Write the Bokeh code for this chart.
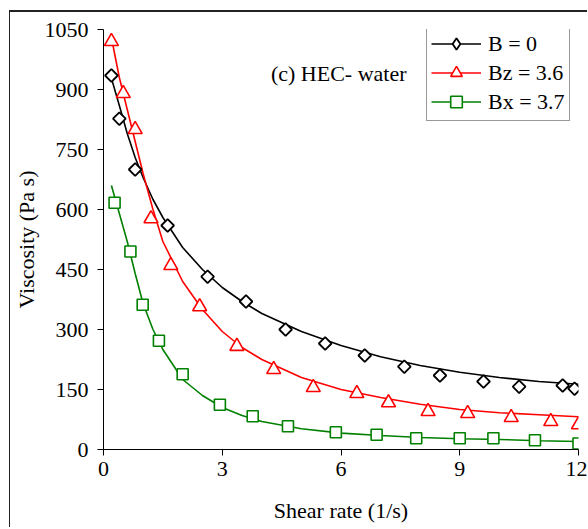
from bokeh.plotting import figure
from bokeh.models import (Range1d, FixedTicker, Legend, LegendItem, Label)
from bokeh.embed import file_html
from bokeh.resources import INLINE

# Measured data points
x_b0 = [0.2, 0.4, 0.8, 1.62, 2.63, 3.6, 4.6, 5.6, 6.6, 7.6, 8.5, 9.6, 10.5, 11.6, 11.9]
y_b0 = [935, 827, 700, 560, 432, 370, 300, 265, 235, 207, 185, 170, 157, 160, 152]

x_bz = [0.2, 0.5, 0.8, 1.2, 1.7, 2.43, 3.37, 4.3, 5.3, 6.4, 7.2, 8.2, 9.2, 10.3, 11.3, 12.0]
y_bz = [1020, 890, 800, 577, 460, 357, 258, 200, 155, 140, 117, 95, 90, 80, 70, 62]

x_bx = [0.28, 0.68, 0.99, 1.4, 2.0, 2.94, 3.77, 4.66, 5.87, 6.9, 7.9, 9.0, 9.85, 10.9, 12.0]
y_bx = [617, 495, 362, 272, 188, 112, 83, 58, 43, 37, 28, 28, 28, 23, 15]

# Fitted curves
x_fit = [0.2, 0.4, 0.6, 0.8, 1.0, 1.25, 1.5, 2.0, 2.5, 3.0, 3.5, 4.0, 5.0, 6.0, 7.0, 8.0, 9.0, 10.0, 11.0, 12.0]
fit_b0 = [928, 860, 790, 730, 680, 625, 580, 505, 450, 405, 370, 340, 295, 260, 232, 210, 193, 180, 170, 163]
fit_bz = [1030, 930, 850, 770, 690, 600, 520, 420, 350, 295, 255, 225, 180, 150, 130, 113, 100, 92, 87, 82]
fit_bx = [660, 590, 520, 440, 365, 300, 250, 175, 135, 105, 85, 70, 52, 41, 35, 30, 27, 25, 22, 20]

x_ticks = [0, 3, 6, 9, 12]
y_ticks = [0, 150, 300, 450, 600, 750, 900, 1050]

labels = ["B = 0", "Bz = 3.6", "Bx = 3.7"]
colors = ["black", "#FF0000", "#008000"]

FONT = "Liberation Serif"

p = figure(width=578, height=517, output_backend="svg", toolbar_location=None,
           x_range=Range1d(0, 12), y_range=Range1d(0, 1050),
           min_border_left=93, min_border_right=10, min_border_top=17, min_border_bottom=80)
p.margin = (10, 0, 0, 9)
p.styles = {"border-top": "2px solid #222222", "border-left": "1px solid #222222"}
p.outline_line_color = None
p.xgrid.visible = False
p.ygrid.visible = False
p.background_fill_color = "white"
p.border_fill_color = "white"

for ax in (p.xaxis[0], p.yaxis[0]):
    ax.axis_line_color = "black"
    ax.major_tick_line_color = "black"
    ax.minor_tick_line_color = None
    ax.major_tick_out = 6
    ax.major_tick_in = 0
    ax.major_label_text_font = FONT
    ax.major_label_text_font_size = "22px"
    ax.major_label_text_color = "black"
    ax.axis_label_text_font = FONT
    ax.axis_label_text_font_size = "22px"
    ax.axis_label_text_font_style = "normal"
    ax.axis_label_text_color = "black"

p.xaxis.ticker = FixedTicker(ticks=x_ticks)
p.yaxis.ticker = FixedTicker(ticks=y_ticks)
p.xaxis.axis_label = "Shear rate (1/s)"
p.yaxis.axis_label = "Viscosity (Pa s)"
p.xaxis.major_label_standoff = 6
p.yaxis.major_label_standoff = 9
p.xaxis.axis_label_standoff = 19
p.yaxis.axis_label_standoff = 3

l0 = p.line(x_fit, fit_b0, line_color=colors[0], line_width=1.6)
l1 = p.line(x_fit, fit_bz, line_color=colors[1], line_width=1.6)
l2 = p.line(x_fit, fit_bx, line_color=colors[2], line_width=1.6)

# B = 0 markers: rotated squares in the plot, a diamond marker for the legend
p.scatter(x_b0, y_b0, marker="square", angle=0.7854, size=9, fill_color="white",
          line_color=colors[0], line_width=1.8)
s0_leg = p.scatter(x_b0, y_b0, marker="diamond", size=12, fill_color="white",
                   line_color=colors[0], line_width=1.8, visible=False)
s1 = p.scatter(x_bz, y_bz, marker="triangle", size=14, fill_color="white",
               line_color=colors[1], line_width=1.6)
s2 = p.scatter(x_bx, y_bx, marker="square", size=11, fill_color="white",
               line_color=colors[2], line_width=1.6)

legend = Legend(items=[LegendItem(label=labels[0], renderers=[l0, s0_leg]),
                       LegendItem(label=labels[1], renderers=[l1, s1]),
                       LegendItem(label=labels[2], renderers=[l2, s2])],
                location=(323, 328))
legend.label_text_font = FONT
legend.label_text_font_size = "22px"
legend.label_text_color = "black"
legend.glyph_width = 50
legend.glyph_height = 29
legend.label_height = 22
legend.label_standoff = 7
legend.spacing = 0
legend.padding = 4
legend.margin = 0
legend.border_line_color = "#333333"
legend.border_line_width = 1
legend.background_fill_alpha = 1.0
p.add_layout(legend)

note = Label(x=4.23, y=940, text="(c) HEC- water", text_font=FONT, text_font_size="22px",
             text_color="black", text_baseline="middle", text_align="left")
p.add_layout(note)

open("out.html", "w").write(file_html(p, INLINE))
